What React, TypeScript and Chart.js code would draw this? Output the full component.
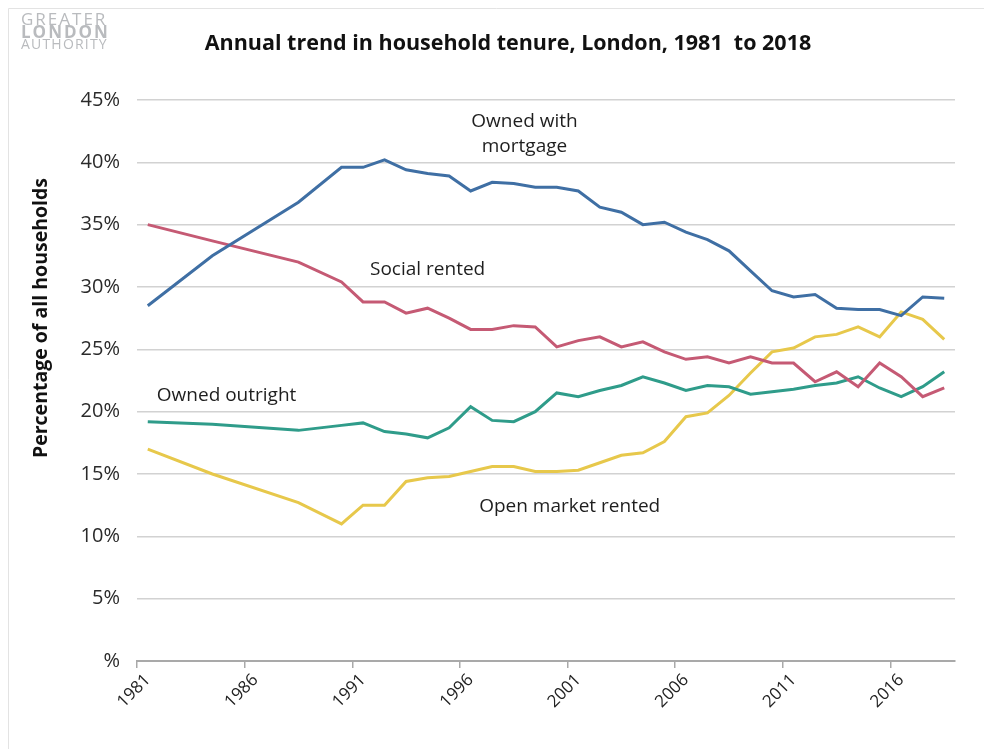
import React, { useEffect, useRef } from "react";
import { Chart, registerables } from "chart.js";

Chart.register(...registerables);

const years = [
  "1981", "1982", "1983", "1984", "1985", "1986", "1987", "1988", "1989", "1990",
  "1991", "1992", "1993", "1994", "1995", "1996", "1997", "1998", "1999", "2000",
  "2001", "2002", "2003", "2004", "2005", "2006", "2007", "2008", "2009", "2010",
  "2011", "2012", "2013", "2014", "2015", "2016", "2017", "2018",
];

const ownedWithMortgage = [
  28.5, null, null, 32.5, null, null, null, 36.8, null, 39.6,
  39.6, 40.2, 39.4, 39.1, 38.9, 37.7, 38.4, 38.3, 38.0, 38.0,
  37.7, 36.4, 36.0, 35.0, 35.2, 34.4, 33.8, 32.9, 31.3, 29.7,
  29.2, 29.4, 28.3, 28.2, 28.2, 27.7, 29.2, 29.1,
];

const socialRented = [
  35.0, null, null, 33.7, null, null, null, 32.0, null, 30.4,
  28.8, 28.8, 27.9, 28.3, 27.5, 26.6, 26.6, 26.9, 26.8, 25.2,
  25.7, 26.0, 25.2, 25.6, 24.8, 24.2, 24.4, 23.9, 24.4, 23.9,
  23.9, 22.4, 23.2, 22.0, 23.9, 22.8, 21.2, 21.9,
];

const ownedOutright = [
  19.2, null, null, 19.0, null, null, null, 18.5, null, 18.9,
  19.1, 18.4, 18.2, 17.9, 18.7, 20.4, 19.3, 19.2, 20.0, 21.5,
  21.2, 21.7, 22.1, 22.8, 22.3, 21.7, 22.1, 22.0, 21.4, 21.6,
  21.8, 22.1, 22.3, 22.8, 21.9, 21.2, 22.0, 23.2,
];

const openMarketRented = [
  17.0, null, null, 15.0, null, null, null, 12.7, null, 11.0,
  12.5, 12.5, 14.4, 14.7, 14.8, 15.2, 15.6, 15.6, 15.2, 15.2,
  15.3, 15.9, 16.5, 16.7, 17.6, 19.6, 19.9, 21.3, 23.1, 24.8,
  25.1, 26.0, 26.2, 26.8, 26.0, 28.0, 27.4, 25.8,
];

const yTicks = [0, 5, 10, 15, 20, 25, 30, 35, 40, 45];

const seriesNames = ["Owned with mortgage", "Social rented", "Owned outright", "Open market rented"];
const seriesColors = ["#3f6fa4", "#c55a74", "#2f9c8a", "#e7c84b"];

// label annotations: [lines, category index, value, align]
const annotations: [string[], number, number, CanvasTextAlign][] = [
  [["Owned with", "mortgage"], 17.5, 42.3, "center"],
  [["Social rented"], 13.0, 31.4, "center"],
  [["Owned outright"], 0.42, 21.3, "left"],
  [["Open market rented"], 19.6, 12.4, "center"],
];

const FONT = "'Open Sans', 'Noto Sans', sans-serif";

const extrasPlugin = {
  id: "extras",
  afterDraw(chart: any) {
    const ctx = chart.ctx as CanvasRenderingContext2D;
    const xs = chart.scales.x;
    const ys = chart.scales.y;
    ctx.save();

    // frame
    ctx.strokeStyle = "#e3e3e3";
    ctx.lineWidth = 1;
    ctx.beginPath();
    ctx.moveTo(8.5, 760);
    ctx.lineTo(8.5, 8.5);
    ctx.lineTo(984, 8.5);
    ctx.stroke();

    // logo
    ctx.fillStyle = "#b9bbbe";
    ctx.textAlign = "left";
    ctx.textBaseline = "middle";
    (ctx as any).letterSpacing = "2px";
    ctx.font = `400 17px ${FONT}`;
    ctx.fillText("GREATER", 21, 20);
    ctx.font = `700 17px ${FONT}`;
    ctx.fillText("LONDON", 21, 33);
    (ctx as any).letterSpacing = "1.2px";
    ctx.font = `400 14px ${FONT}`;
    ctx.fillText("AUTHORITY", 21, 45);
    (ctx as any).letterSpacing = "0px";

    // title
    ctx.fillStyle = "#111";
    ctx.textAlign = "center";
    ctx.font = `700 21.5px ${FONT}`;
    ctx.fillText("Annual trend in household tenure, London, 1981  to 2018", 508, 44);

    // y axis title
    ctx.save();
    ctx.translate(41, 318);
    ctx.rotate(-Math.PI / 2);
    ctx.font = `700 19.5px ${FONT}`;
    ctx.fillStyle = "#111";
    ctx.textAlign = "center";
    ctx.textBaseline = "middle";
    ctx.fillText("Percentage of all households", 0, 0);
    ctx.restore();

    // annotations
    ctx.font = `400 19px ${FONT}`;
    ctx.fillStyle = "#1e1e1e";
    ctx.textBaseline = "middle";
    annotations.forEach(([lines, xi, yv, align]) => {
      const px = xs.getPixelForValue(xi);
      const py = ys.getPixelForValue(yv);
      ctx.textAlign = align;
      lines.forEach((l, i) => {
        const off = (i - (lines.length - 1) / 2) * 25;
        ctx.fillText(l, px, py + off);
      });
    });
    ctx.restore();
  },
};

export default function App() {
  const ref = useRef<HTMLCanvasElement | null>(null);

  useEffect(() => {
    if (!ref.current) return;
    const datasets = [ownedWithMortgage, socialRented, ownedOutright, openMarketRented].map((d, i) => ({
      label: seriesNames[i],
      data: d,
      borderColor: seriesColors[i],
      backgroundColor: seriesColors[i],
      borderWidth: 3,
      pointRadius: 0,
      spanGaps: true,
      tension: 0,
    }));
    const chart = new Chart(ref.current, {
      type: "line",
      data: { labels: years, datasets },
      options: {
        animation: false,
        responsive: false,
        layout: { padding: { top: 100, right: 29, bottom: 28, left: 0 } },
        plugins: {
          legend: { display: false },
          tooltip: { enabled: false },
        },
        scales: {
          x: {
            type: "category",
            offset: true,
            grid: {
              offset: true,
              drawOnChartArea: false,
              drawTicks: true,
              tickLength: 7,
              lineWidth: 1.5,
              color: (c: any) => (c.index % 5 === 0 ? "#a9a9a9" : "rgba(0,0,0,0)"),
            },
            border: { display: true, color: "#a9a9a9", width: 2 },
            ticks: {
              autoSkip: false,
              maxRotation: 45,
              minRotation: 45,
              padding: 2,
              color: "#222",
              font: { family: FONT, size: 17 },
              callback: (_v: any, idx: number) => (idx % 5 === 0 ? years[idx] : ""),
            },
            afterFit: (s: any) => {
              s.height = 60;
            },
          },
          y: {
            min: 0,
            max: 45,
            afterBuildTicks: (s: any) => {
              s.ticks = yTicks.map((v) => ({ value: v }));
            },
            grid: {
              drawTicks: false,
              lineWidth: 1.5,
              color: (c: any) => (c.tick && c.tick.value === 0 ? "rgba(0,0,0,0)" : "#d2d2d2"),
            },
            border: { display: false },
            ticks: {
              padding: 17,
              color: "#2a2a2a",
              font: { family: FONT, size: 20 },
              callback: (v: any) => (Number(v) === 0 ? "%" : `${v}%`),
            },
            afterFit: (s: any) => {
              s.width = 137;
            },
          },
        },
      },
      plugins: [extrasPlugin],
    });
    return () => chart.destroy();
  }, []);

  return (
    <div style={{ position: "absolute", left: 0, top: 0, width: 984, height: 749, background: "#fff" }}>
      <canvas ref={ref} width={984} height={749} style={{ display: "block" }} />
    </div>
  );
}
